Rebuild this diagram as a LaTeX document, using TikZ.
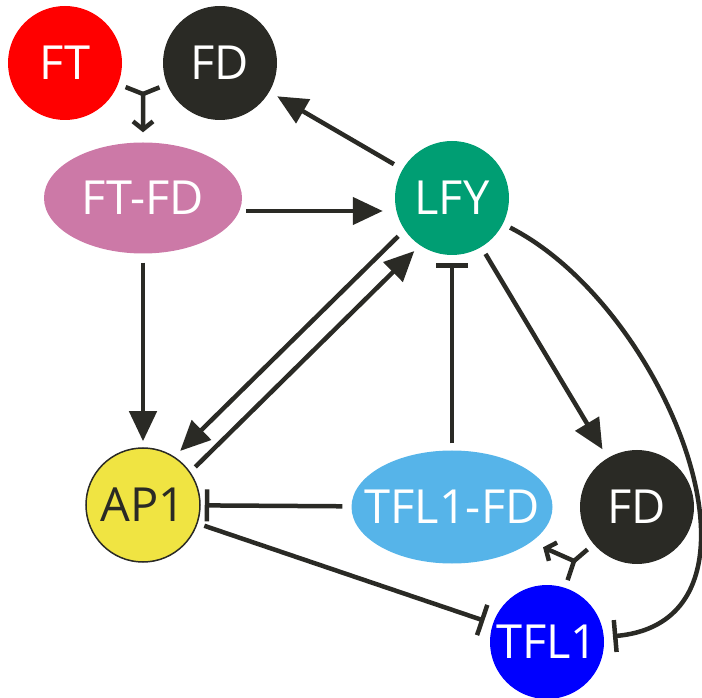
\documentclass[tikz,border=0pt]{standalone}
\usepackage{fontspec}
\setmainfont{Open Sans}
\usetikzlibrary{arrows.meta,shapes.geometric}
\definecolor{ink}{HTML}{2A2A25}
\definecolor{ftred}{HTML}{FF0000}
\definecolor{cplxpink}{HTML}{CC79A7}
\definecolor{lfygreen}{HTML}{009E73}
\definecolor{apyellow}{HTML}{F0E442}
\definecolor{cplxblue}{HTML}{56B4E9}
\definecolor{tflblue}{HTML}{0000FF}

\begin{document}
\begin{tikzpicture}[x=1pt,y=1pt,
        gene/.style={circle,minimum size=114pt,inner sep=0pt,text=white,font=\fontsize{47}{50}\selectfont},
        cplx/.style={ellipse,inner sep=0pt,text=white,font=\fontsize{47}{50}\selectfont},
        link/.style={draw=ink,line width=4.5pt},
        act/.style={link,-{Triangle[length=30pt,width=27pt]}},
        inh/.style={link,-{Bar[width=32pt]}},
        bind/.style={link,-{Straight Barb[length=8pt,width=20pt]}}]
        \useasboundingbox (0,0) rectangle (702,697);

        \node[gene,fill=ftred] (ft) at (65,634) {FT};
        \node[gene,fill=ink] (fdtop) at (220,634) {FD};
        \node[cplx,fill=cplxpink,minimum width=198pt,minimum height=111pt] (ftfd) at (143,499) {\makebox[0pt]{FT-FD}};
        \node[gene,fill=lfygreen] (lfy) at (452,499) {LFY};
        \node[gene,fill=apyellow,draw=ink,line width=1.5pt,text=ink] (ap1) at (143,192) {AP1};
        \node[cplx,fill=cplxblue,minimum width=201pt,minimum height=113pt] (tflfd) at (452,190) {\makebox[0pt]{TFL1-FD}};
        \node[gene,fill=ink] (fdr) at (637,190) {FD};
        \node[gene,fill=tflblue] (tflone) at (547,55) {TFL1};
        \coordinate (j1) at (143,603);
        \coordinate (j2) at (574,136);

        \draw[bind,shorten <=8pt,shorten >=10pt](ft) -- (j1) -- (ftfd);
        \draw[link,shorten <=8pt](fdtop) -- (j1);
        \draw[bind,shorten <=8pt,shorten >=13pt](tflone) -- (j2) -- (tflfd);
        \draw[link,shorten <=8pt](fdr) -- (j2);

        \draw[act,shorten <=4pt,shorten >=12pt]([yshift=-13pt]ftfd.east) -- ([yshift=-13pt]lfy.west);
        \draw[act,shorten <=10pt,shorten >=9pt](lfy) -- (fdtop);
        \draw[act,shorten <=9pt,shorten >=6pt](ftfd) -- (ap1);
        \draw[act,shorten <=9pt,shorten >=8pt](lfy.214) -- (ap1.57);
        \draw[act,shorten <=7pt,shorten >=8pt](ap1.35) -- (lfy.236);
        \draw[act,shorten <=8pt,shorten >=10pt](lfy) -- (fdr);
        \draw[inh,shorten <=7pt,shorten >=8pt](tflfd) -- (lfy);
        \draw[inh,shorten <=8pt,shorten >=9pt](lfy) to[out=-27,in=5,looseness=1.12] (tflone);
        \draw[inh,shorten <=9pt,shorten >=4pt](tflfd) -- (ap1);
        \draw[inh,shorten <=7pt,shorten >=9pt](ap1) -- (tflone);
    \end{tikzpicture}
\end{document}
